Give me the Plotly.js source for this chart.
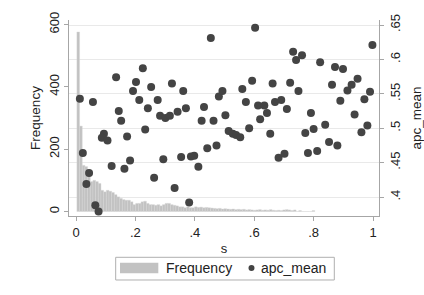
<!DOCTYPE html>
<html>
<head>
<meta charset="utf-8">
<script src="https://cdn.plot.ly/plotly-3.0.1.min.js"></script>
<style>html,body{margin:0;padding:0;background:#fff;}#chart{width:424px;height:295px;}</style>
</head>
<body>
<div id="chart"></div>
<script>
// Histogram of s (bin width 0.009, first bin centred at 0.0075)
var binFirstCenter = 0.0075;
var binWidth = 0.009;
var frequency = [576,274,148,144,128,96,100,96,90,68,
 63,68,65,61,54,47,42,38,36,36,
 31,22,26,26,31,33,26,22,22,20,
 22,18,22,26,26,22,20,18,15,15,
 12,15,12,12,15,13,14,12,13,12,
 11,10,9,10,8,9,8,7,8,6,
 7,6,7,5,6,5,4,5,6,4,
 5,4,6,4,3,4,3,5,6,5,
 3,5,0,3,0,0,0,0,3];

// Scatter: s vs apc_mean
var sVals = [0.013,0.057,0.135,0.225,0.202,0.192,0.253,0.213,0.242,0.275,
0.144,0.152,0.283,0.301,0.316,0.323,0.361,0.370,0.342,0.431,
0.423,0.463,0.442,0.454,0.603,0.481,0.493,0.560,0.593,0.572,
0.613,0.634,0.643,0.662,0.670,0.503,0.620,0.731,0.741,0.761,
0.822,0.872,0.899,0.998,0.721,0.749,0.691,0.710,0.791,0.862,
0.914,0.928,0.948,0.890,0.971,0.990,0.938,0.514,0.528,0.539,
0.553,0.583,0.654,0.772,0.800,0.839,0.852,0.880,0.961,0.981,
0.473,0.094,0.087,0.106,0.172,0.233,0.023,0.120,0.182,0.163,
0.294,0.263,0.044,0.035,0.065,0.076,0.354,0.398,0.412,0.332,
0.381,0.682,0.702,0.781,0.812,0.387];
var apcMean = [0.543,0.538,0.574,0.587,0.567,0.554,0.560,0.541,0.529,0.541,
0.525,0.511,0.518,0.515,0.518,0.565,0.554,0.529,0.524,0.531,
0.511,0.511,0.471,0.631,0.646,0.546,0.554,0.557,0.569,0.538,
0.533,0.533,0.522,0.565,0.538,0.519,0.513,0.611,0.599,0.606,
0.596,0.589,0.586,0.621,0.566,0.554,0.541,0.528,0.522,0.563,
0.555,0.563,0.572,0.540,0.542,0.553,0.520,0.496,0.492,0.490,
0.487,0.500,0.492,0.493,0.499,0.505,0.480,0.475,0.494,0.504,
0.475,0.492,0.486,0.482,0.488,0.498,0.464,0.445,0.453,0.441,
0.455,0.428,0.435,0.419,0.388,0.379,0.458,0.460,0.444,0.413,
0.392,0.457,0.463,0.464,0.467,0.459];

var xTickVals = [0,0.2,0.4,0.6,0.8,1];
var xTickText = ["0",".2",".4",".6",".8","1"];
var yTickVals = [0,200,400,600];
var yTickText = ["0","200","400","600"];
var y2TickVals = [0.4,0.45,0.5,0.55,0.6,0.65];
var y2TickText = [".4",".45",".5",".55",".6",".65"];

var FONT = "Liberation Sans, Arial, Helvetica, sans-serif";
var BAR = "#c2c2c2", MARK = "#444444", AX = "#a6a6a6";

var traces = [
  {type:"bar", name:"Frequency", y:frequency, x0:binFirstCenter, dx:binWidth, width:binWidth,
   marker:{color:BAR, line:{color:"#d6d6d6", width:0.4}}, yaxis:"y", showlegend:false, hoverinfo:"skip"},
  {type:"scatter", mode:"markers", name:"apc_mean", x:sVals, y:apcMean, yaxis:"y2",
   marker:{color:MARK, size:8, line:{width:0}}, showlegend:false, hoverinfo:"skip"}
];

var layout = {
  width:424, height:295,
  margin:{l:69, r:45, t:20, b:79},
  paper_bgcolor:"#fff", plot_bgcolor:"#fff",
  font:{family:FONT, size:13, color:"#222"},
  showlegend:false,
  bargap:0,
  xaxis:{range:[-0.0236,1.0202], tickvals:xTickVals, ticktext:xTickText,
    ticks:"outside", ticklen:4, tickcolor:AX, showline:true, linecolor:AX, linewidth:1,
    showgrid:false, zeroline:false, tickfont:{size:13},
    title:{text:"s", font:{size:13}, standoff:5}},
  yaxis:{range:[-14.4,614.4], tickvals:yTickVals, ticktext:yTickText, tickangle:-90,
    ticks:"outside", ticklen:4, tickcolor:AX, showline:true, linecolor:AX, linewidth:1,
    showgrid:false, zeroline:false, tickfont:{size:13},
    title:{text:"Frequency", font:{size:13.5}, standoff:3}},
  yaxis2:{overlaying:"y", side:"right", range:[0.3724,0.6573], tickvals:y2TickVals, ticktext:y2TickText,
    tickangle:-90, ticks:"outside", ticklen:4, tickcolor:AX, showline:true, linecolor:AX, linewidth:1,
    showgrid:true, gridcolor:"#e9e9e9", gridwidth:1, zeroline:false, tickfont:{size:13},
    title:{text:"apc_mean", font:{size:13.5}, standoff:10}},
  shapes:[
    {type:"rect", xref:"paper", yref:"paper", x0:0.1506, x1:0.8558, y0:-0.3265, y1:-0.2107,
     line:{color:"#b0b0b0", width:1}, fillcolor:"#fff"},
    {type:"rect", xref:"paper", yref:"paper", x0:0.1645, x1:0.2881, y0:-0.2923, y1:-0.2383,
     line:{width:0}, fillcolor:BAR},
    {type:"circle", xref:"paper", yref:"paper", x0:0.5790, x1:0.5984, y0:-0.2806, y1:-0.2500,
     line:{width:0}, fillcolor:MARK}
  ],
  annotations:[
    {xref:"paper", yref:"paper", x:0.3065, y:-0.2653, xanchor:"left", yanchor:"middle",
     text:"Frequency", showarrow:false, font:{size:14, color:"#222"}},
    {xref:"paper", yref:"paper", x:0.6130, y:-0.2653, xanchor:"left", yanchor:"middle",
     text:"apc_mean", showarrow:false, font:{size:14, color:"#222"}}
  ]
};

Plotly.newPlot("chart", traces, layout, {staticPlot:true, displayModeBar:false});
</script>
</body>
</html>
